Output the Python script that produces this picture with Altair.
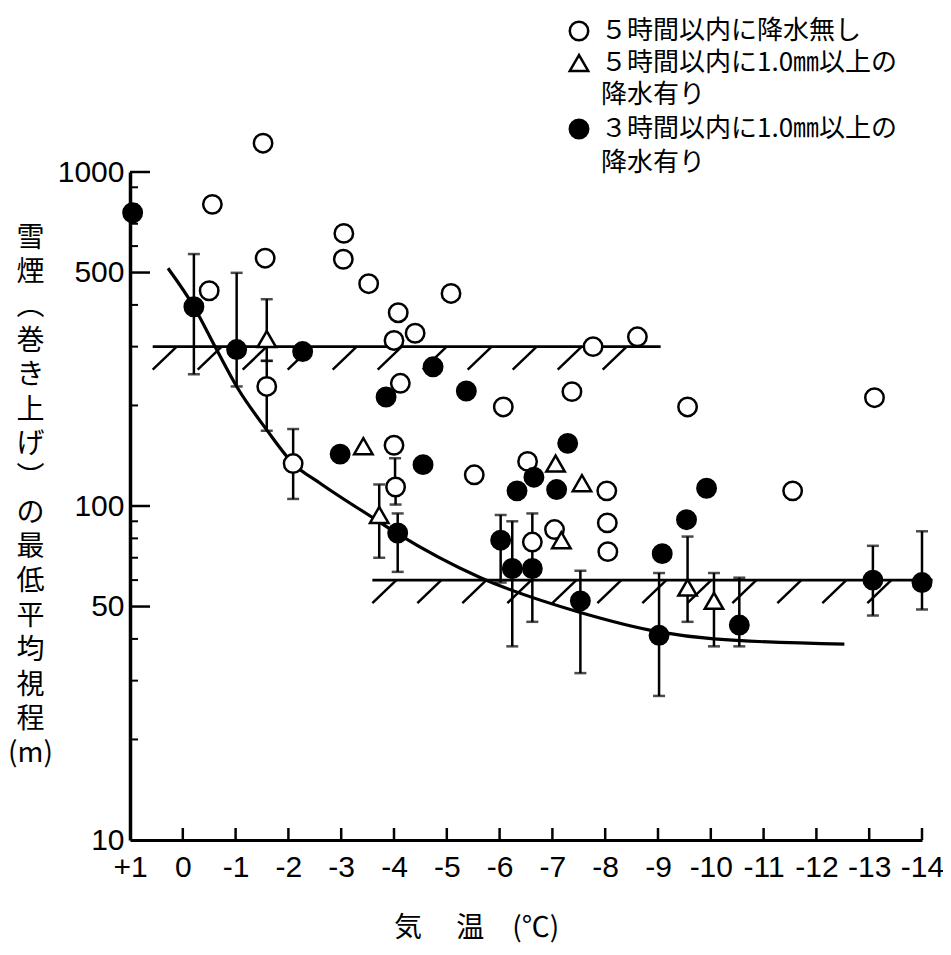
import altair as alt
import pandas as pd
import numpy as np

JP = "Noto Sans CJK JP"
NUM = "Liberation Sans"

# ---------------- data ----------------
# open circles: no precipitation within 5 h
open_T = [-1.52, -0.56, -1.56, -0.50, -3.05, -3.04, -3.52, -4.08, -4.40, -4.00,
          -5.08, -4.12, -7.77, -8.61, -1.59, -7.37, -6.07, -9.56, -13.10, -2.09,
          -4.00, -4.03, -5.52, -6.53, -8.03, -8.04, -8.05, -11.55, -6.62, -7.04]
open_V = [1220, 800, 552, 441, 655, 548, 463, 379, 329, 313,
          433, 233, 300, 321, 228, 220, 198, 198, 211, 134,
          152, 114, 124, 136, 111, 89, 73, 111, 78, 85]

# triangles: >=1.0 mm within 5 h
tri_T = [-1.59, -3.42, -3.72, -7.06, -7.56, -7.17, -9.56, -10.06]
tri_V = [316, 151, 94, 134, 117, 79, 57, 52]

# filled circles: >=1.0 mm within 3 h
fill_T = [0.95, -0.21, -1.02, -2.27, -2.98, -4.55, -3.85, -4.74, -5.37, -4.07,
          -6.02, -6.24, -6.62, -6.33, -6.65, -7.08, -7.29, -7.53, -9.08, -9.54,
          -9.92, -9.02, -10.54, -13.07, -14.0]
fill_V = [755, 395, 294, 290, 143, 133, 212, 261, 221, 83,
          79, 65, 65, 111, 122, 112, 154, 52, 72, 91,
          113, 41, 44, 60, 59]

# error bars (temperature, low, high)
err_T = [-0.21, -1.02, -1.59, -1.59, -2.09, -3.72, -4.02, -4.03, -4.07, -6.02,
         -6.24, -6.62, -6.62, -7.53, -9.02, -9.56, -10.06, -10.54, -13.07, -14.0]
err_lo = [248, 228, 272, 168, 105, 70, 114, 101, 63.5, 59,
          38, 78, 45, 31.6, 27, 45, 38, 38, 47, 49]
err_hi = [568, 499, 416, 272, 170, 116, 139, 114, 95, 94,
          90, 95, 78, 64, 63, 81, 63, 61, 76, 84]

# fitted curve
curve_T = [0.28, -0.21, -0.64, -1.02, -1.59, -2.09, -2.60, -3.61, -4.05,
           -5.64, -7.53, -9.02, -10.06, -12.53]
curve_V = [515, 395, 294, 228, 169, 134, 117, 92, 83,
           61, 48, 42, 40, 38.6]

# hatched limit lines
hatch_level = [300, 60]
hatch_start = [0.57, -3.59]
hatch_end = [-9.05, -14.2]

# axes
x_tick_values = list(range(1, -15, -1))
x_minor_ticks = list(range(0, -15, -1))
y_label_values = [10, 50, 100, 500, 1000]
y_major_ticks = [50, 100, 500, 1000]
y_minor_ticks = [20, 30, 40, 60, 70, 80, 90, 200, 300, 400, 600, 700, 800, 900]

legend_labels = ["５時間以内に降水無し", "５時間以内に1.0㎜以上の", "降水有り",
                 "３時間以内に1.0㎜以上の", "降水有り\u200b"]
y_title = ["雪", "煙", "︵", "巻", "き", "上", "げ", "︶", "の", "最", "低",
           "平", "均", "視", "程", "(m)"]
x_title = "気　 温　(℃)"

# ---------------- styling ----------------
W, H = 792, 668
X0, X1 = 1, -14
PX_PER_DEG = W / (X0 - X1)
PX_PER_DEC = H / 2.0

xscale = alt.Scale(domain=[X1, X0], reverse=True, nice=False, zero=False)
yscale = alt.Scale(type="log", domain=[10, 1000], nice=False)

xaxis = alt.Axis(values=x_tick_values, ticks=False, grid=False, labelFlush=False,
                 labelOverlap=False, domainWidth=3, domainColor="black",
                 labelExpr="datum.value > 0 ? '+' + datum.value : (datum.value == 0 ? '0' : '-' + abs(datum.value))",
                 labelFont=NUM, labelFontSize=30, labelColor="black", labelPadding=12,
                 title=x_title, titleFont=JP, titleFontSize=28, titleFontWeight="normal",
                 titleColor="black", titleX=346, titleY=88, titleAlign="center",
                 titleBaseline="middle")
yaxis = alt.Axis(values=y_label_values, format="d", ticks=False, grid=False,
                 labelOverlap=False, domainWidth=3.5, domainColor="black",
                 labelFont=NUM, labelFontSize=30, labelColor="black", labelPadding=6,
                 title=y_title, titleAngle=0, titleFont=JP, titleFontSize=28,
                 titleFontWeight="normal", titleColor="black", titleLineHeight=34.4,
                 titleX=-100, titleY=52, titleAlign="center", titleBaseline="top")


def X(f):
    return alt.X(f"{f}:Q", scale=xscale, axis=xaxis)


def Y(f):
    return alt.Y(f"{f}:Q", scale=yscale, axis=yaxis)


# points table
pts = pd.DataFrame({
    "T": open_T + tri_T + fill_T,
    "V": open_V + tri_V + fill_V,
    "g": [legend_labels[0]] * len(open_T) + [legend_labels[1]] * len(tri_T)
         + [legend_labels[3]] * len(fill_T),
})

err = pd.DataFrame({"T": err_T, "lo": err_lo, "hi": err_hi})
caps = pd.DataFrame({"T": err_T + err_T, "V": err_lo + err_hi})
curve = pd.DataFrame({"T": curve_T, "V": curve_V})

# tick marks drawn inward
tick_up = 10 ** (12 / PX_PER_DEC)
xt = pd.DataFrame({"T": x_minor_ticks, "V": [10] * len(x_minor_ticks),
                   "V2": [10 * tick_up] * len(x_minor_ticks)})
yt_major = pd.DataFrame({"T": [X0] * len(y_major_ticks),
                         "T2": [X0 - 20 / PX_PER_DEG] * len(y_major_ticks),
                         "V": y_major_ticks})
yt_minor = pd.DataFrame({"T": [X0] * len(y_minor_ticks),
                         "T2": [X0 - 8 / PX_PER_DEG] * len(y_minor_ticks),
                         "V": y_minor_ticks})

# hatched lines
hl = pd.DataFrame({"T": hatch_start, "T2": hatch_end, "V": hatch_level})
h_rows = []
step_deg = 45 / PX_PER_DEG
dx_deg = 24 / PX_PER_DEG
dy_fac = 10 ** (-23 / PX_PER_DEC)
for lev, s, e in zip(hatch_level, hatch_start, hatch_end):
    for t in np.arange(s - dx_deg, e, -step_deg):
        h_rows.append({"T": t, "V": lev, "T2": t + dx_deg, "V2": lev * dy_fac})
hatch = pd.DataFrame(h_rows)

legend = alt.Legend(title=None, orient="none", legendX=436, legendY=-154,
                    labelFont=JP, labelFontSize=26, labelColor="black",
                    labelLimit=0, labelOffset=9, symbolSize=340,
                    symbolStrokeWidth=2.5, rowPadding=4, padding=0)

shape_range = ["circle", "triangle-up", "circle", "circle", "circle"]
fill_range = ["white", "white", "transparent", "black", "transparent"]
stroke_range = ["black", "black", "transparent", "black", "transparent"]

layers = [
    alt.Chart(xt).mark_rule(color="black", strokeWidth=2.5).encode(
        x=X("T"), y=Y("V"), y2="V2:Q"),
    alt.Chart(yt_major).mark_rule(color="black", strokeWidth=2.5).encode(
        x=X("T"), x2="T2:Q", y=Y("V")),
    alt.Chart(yt_minor).mark_rule(color="black", strokeWidth=2).encode(
        x=X("T"), x2="T2:Q", y=Y("V")),
    alt.Chart(hl).mark_rule(color="black", strokeWidth=2.8).encode(
        x=X("T"), x2="T2:Q", y=Y("V")),
    alt.Chart(hatch).mark_rule(color="black", strokeWidth=2.5).encode(
        x=X("T"), x2="T2:Q", y=Y("V"), y2="V2:Q"),
    alt.Chart(curve).mark_line(color="black", strokeWidth=3.2, interpolate="monotone").encode(
        x=X("T"), y=Y("V")),
    alt.Chart(err).mark_rule(color="black", strokeWidth=2.5).encode(
        x=X("T"), y=Y("lo"), y2="hi:Q"),
    alt.Chart(caps).mark_tick(color="black", orient="horizontal", size=12, thickness=2.5).encode(
        x=X("T"), y=Y("V")),
    alt.Chart(pts).mark_point(size=340, strokeWidth=2.5, opacity=1, filled=False).encode(
        x=X("T"), y=Y("V"),
        shape=alt.Shape("g:N", scale=alt.Scale(domain=legend_labels, range=shape_range), legend=legend),
        fill=alt.Fill("g:N", scale=alt.Scale(domain=legend_labels, range=fill_range), legend=legend),
        stroke=alt.Stroke("g:N", scale=alt.Scale(domain=legend_labels, range=stroke_range), legend=legend),
    ),
]

chart = alt.layer(*layers).properties(
    width=W, height=H,
    autosize=alt.AutoSizeParams(type="none"),
    padding={"left": 122, "top": 164, "right": 21, "bottom": 106},
    background="white",
).configure_view(stroke=None)

chart.save("out.html", embed_options={"renderer": "svg", "actions": False})
